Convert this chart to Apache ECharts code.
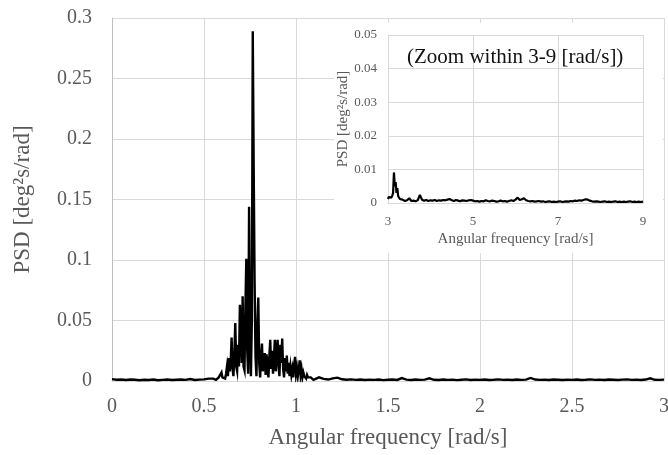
<!DOCTYPE html>
<html>
<head>
<meta charset="utf-8">
<script src="https://cdn.jsdelivr.net/npm/echarts@6/dist/echarts.min.js"></script>
<style>
  html, body { margin: 0; padding: 0; background: #ffffff; }
  #chart { width: 668px; height: 455px; }
</style>
</head>
<body>
<div id="chart"></div>
<script>
// main spectrum 0-3 rad/s
const mainFreq = [
  0, 0.025, 0.05, 0.075, 0.1, 0.125, 0.15, 0.175, 0.2, 0.225,
  0.25, 0.275, 0.3, 0.325, 0.35, 0.375, 0.4, 0.425, 0.45, 0.475,
  0.5, 0.525,
  0.55, 0.555, 0.56, 0.565, 0.57, 0.575, 0.58, 0.585, 0.59, 0.595,
  0.6, 0.605, 0.61, 0.615, 0.62, 0.625, 0.63, 0.635, 0.64, 0.645,
  0.65, 0.655, 0.66, 0.665, 0.67, 0.675, 0.68, 0.685, 0.69, 0.695,
  0.7, 0.705, 0.71, 0.715, 0.72, 0.725, 0.73, 0.735, 0.74, 0.745,
  0.75, 0.755, 0.76, 0.765, 0.77, 0.775, 0.78, 0.785, 0.79, 0.795,
  0.8, 0.805, 0.81, 0.815, 0.82, 0.825, 0.83, 0.835, 0.84, 0.845,
  0.85, 0.855, 0.86, 0.865, 0.87, 0.875, 0.88, 0.885, 0.89, 0.895,
  0.9, 0.905, 0.91, 0.915, 0.92, 0.925, 0.93, 0.935, 0.94, 0.945,
  0.95, 0.955, 0.96, 0.965, 0.97, 0.975, 0.98, 0.985, 0.99, 0.995,
  1.0, 1.005, 1.01, 1.015, 1.02, 1.025, 1.03, 1.035, 1.04, 1.045,
  1.05, 1.055, 1.06, 1.065, 1.07, 1.075, 1.08, 1.085, 1.09, 1.095,
  1.1,
  1.125, 1.15, 1.175, 1.2, 1.225, 1.25, 1.275, 1.3, 1.325, 1.35,
  1.375, 1.4, 1.425, 1.45, 1.475, 1.5, 1.525, 1.55, 1.575, 1.6,
  1.625, 1.65, 1.675, 1.7, 1.725, 1.75, 1.775, 1.8, 1.825, 1.85,
  1.875, 1.9, 1.925, 1.95, 1.975, 2.0, 2.025, 2.05, 2.075, 2.1,
  2.125, 2.15, 2.175, 2.2, 2.225, 2.25, 2.275, 2.3, 2.325, 2.35,
  2.375, 2.4, 2.425, 2.45, 2.475, 2.5, 2.525, 2.55, 2.575, 2.6,
  2.625, 2.65, 2.675, 2.7, 2.725, 2.75, 2.775, 2.8, 2.825, 2.85,
  2.875, 2.9, 2.925, 2.95, 2.975, 3.0
];
const mainPsd = [
  0.0015, 0.0010, 0.0012, 0.0008, 0.0012, 0.0010, 0.0006, 0.0010, 0.0008, 0.0012,
  0.0006, 0.0009, 0.0012, 0.0008, 0.0010, 0.0012, 0.0009, 0.0016, 0.0008, 0.0011,
  0.0013, 0.0020,
  0.002, 0.001, 0.002, 0.001, 0.002, 0.001, 0.003, 0.002, 0.004, 0.007,
  0.003, 0.002, 0.004, 0.002, 0.006, 0.012, 0.004, 0.019, 0.008, 0.015,
  0.036, 0.010, 0.004, 0.022, 0.048, 0.012, 0.008, 0.030, 0.012, 0.063,
  0.045, 0.015, 0.070, 0.012, 0.009, 0.060, 0.101, 0.025, 0.006, 0.144,
  0.040, 0.004, 0.050, 0.289, 0.177, 0.082, 0.020, 0.004, 0.045, 0.069,
  0.015, 0.003, 0.020, 0.031, 0.008, 0.018, 0.023, 0.005, 0.022, 0.012,
  0.003, 0.020, 0.034, 0.010, 0.025, 0.006, 0.018, 0.034, 0.008, 0.022,
  0.034, 0.012, 0.004, 0.030, 0.015, 0.035, 0.010, 0.003, 0.019, 0.008,
  0.021, 0.006, 0.015, 0.004, 0.012, 0.005, 0.010, 0.003, 0.014, 0.020,
  0.006, 0.011, 0.004, 0.009, 0.017, 0.005, 0.010, 0.003, 0.007, 0.004,
  0.005, 0.002, 0.005, 0.003, 0.004, 0.002, 0.003, 0.002, 0.002, 0.001,
  0.002,
  0.0030, 0.0018, 0.0012, 0.0022, 0.0028, 0.0014, 0.0010, 0.0013, 0.0009, 0.0012,
  0.0008, 0.0011, 0.0009, 0.0012, 0.0007, 0.0010, 0.0012, 0.0009, 0.0024, 0.0011,
  0.0008, 0.0012, 0.0009, 0.0011, 0.0022, 0.0010, 0.0008, 0.0012, 0.0009, 0.0011,
  0.0007, 0.0010, 0.0013, 0.0008, 0.0011, 0.0009, 0.0012, 0.0008, 0.0010, 0.0013,
  0.0009, 0.0011, 0.0008, 0.0012, 0.0009, 0.0011, 0.0025, 0.0012, 0.0009, 0.0011,
  0.0008, 0.0012, 0.0010, 0.0008, 0.0011, 0.0009, 0.0012, 0.0008, 0.0010, 0.0013,
  0.0009, 0.0011, 0.0008, 0.0012, 0.0010, 0.0008, 0.0011, 0.0013, 0.0009, 0.0011,
  0.0008, 0.0012, 0.0022, 0.0010, 0.0009, 0.0011
];

// inset spectrum 3-9 rad/s
const zoomFreq = [
  3.0, 3.02, 3.04, 3.06, 3.08, 3.1, 3.12, 3.14, 3.16, 3.18,
  3.2, 3.22, 3.24, 3.26, 3.28, 3.3, 3.32, 3.34, 3.36, 3.38,
  3.4,
  3.45, 3.5, 3.55, 3.6, 3.65, 3.7, 3.75, 3.8, 3.85, 3.9,
  3.95, 4.0, 4.05, 4.1, 4.15, 4.2, 4.25, 4.3, 4.35, 4.4,
  4.45, 4.5, 4.55, 4.6, 4.65, 4.7, 4.75, 4.8, 4.85, 4.9,
  4.95, 5.0, 5.05, 5.1, 5.15, 5.2, 5.25, 5.3, 5.35, 5.4,
  5.45, 5.5, 5.55, 5.6, 5.65, 5.7, 5.75, 5.8, 5.85, 5.9,
  5.95, 6.0, 6.05, 6.1, 6.15, 6.2, 6.25, 6.3, 6.35, 6.4,
  6.45, 6.5, 6.55, 6.6, 6.65, 6.7, 6.75, 6.8, 6.85, 6.9,
  6.95, 7.0, 7.05, 7.1, 7.15, 7.2, 7.25, 7.3, 7.35, 7.4,
  7.45, 7.5, 7.55, 7.6, 7.65, 7.7, 7.75, 7.8, 7.85, 7.9,
  7.95, 8.0, 8.05, 8.1, 8.15, 8.2, 8.25, 8.3, 8.35, 8.4,
  8.45, 8.5, 8.55, 8.6, 8.65, 8.7, 8.75, 8.8, 8.85, 8.9,
  8.95, 9.0
];
const zoomPsd = [
  0.0012, 0.0018, 0.0015, 0.0020, 0.0016, 0.0022, 0.0030, 0.0091, 0.0050, 0.0062,
  0.0030, 0.0044, 0.0020, 0.0016, 0.0012, 0.0010, 0.0008, 0.0010, 0.0007, 0.0009,
  0.0006,
  0.0008, 0.0014, 0.0006, 0.0007, 0.0005, 0.0008, 0.0024, 0.0010, 0.0007, 0.0009,
  0.0006, 0.0008, 0.0007, 0.0009, 0.0006, 0.0008, 0.0007, 0.0009, 0.0008, 0.0010,
  0.0012, 0.0008, 0.0006, 0.0009, 0.0007, 0.0005, 0.0008, 0.0007, 0.0006, 0.0008,
  0.0009, 0.0007, 0.0005, 0.0006, 0.0004, 0.0006, 0.0005, 0.0008, 0.0006, 0.0005,
  0.0007, 0.0006, 0.0004, 0.0005, 0.0007, 0.0005, 0.0006, 0.0004, 0.0006, 0.0008,
  0.0006, 0.0010, 0.0016, 0.0009, 0.0011, 0.0014, 0.0008, 0.0006, 0.0005, 0.0006,
  0.0004, 0.0005, 0.0006, 0.0004, 0.0005, 0.0003, 0.0004, 0.0005, 0.0003, 0.0004,
  0.0003, 0.0004, 0.0005, 0.0003, 0.0004, 0.0005, 0.0004, 0.0006, 0.0005, 0.0007,
  0.0006, 0.0008, 0.0007, 0.0009, 0.0011, 0.0010, 0.0007, 0.0005, 0.0004, 0.0005,
  0.0004, 0.0003, 0.0004, 0.0005, 0.0003, 0.0004, 0.0003, 0.0004, 0.0005, 0.0003,
  0.0004, 0.0003, 0.0004, 0.0003, 0.0004, 0.0005, 0.0003, 0.0004, 0.0003, 0.0004,
  0.0003, 0.0004
];

const zoomXTicks = [3, 5, 7, 9];
const zoomNote = '(Zoom within 3-9 [rad/s])';

const FONT = 'Liberation Serif';
const TEXT = '#595959';
const GRID_LINE = '#d9d9d9';

const zip = (xs, ys) => xs.map((x, i) => [x, ys[i]]);

const chart = echarts.init(document.getElementById('chart'), null, { renderer: 'canvas' });

const option = {
  animation: false,
  backgroundColor: '#ffffff',
  title: {
    text: zoomNote,
    left: 407,
    top: 47,
    padding: 0,
    z: 20,
    textStyle: { fontFamily: FONT, fontSize: 21, fontWeight: 'normal', color: '#111111' },
  },
  graphic: [
    {
      type: 'rect',
      left: 334,
      top: 23,
      z: 5,
      shape: { width: 329, height: 230 },
      style: { fill: '#ffffff' },
    },
  ],
  grid: [
    { left: 112, right: 4, top: 18, bottom: 74, outerBoundsMode: 'none' },
    { left: 388, right: 25, top: 35, bottom: 252, outerBoundsMode: 'none' },
  ],
  xAxis: [
    {
      type: 'value',
      gridIndex: 0,
      min: 0,
      max: 3,
      interval: 0.5,
      axisLine: { show: true, lineStyle: { color: GRID_LINE } },
      axisTick: { show: false },
      axisLabel: { fontFamily: FONT, fontSize: 20, color: TEXT, margin: 16 },
      splitLine: { show: true, lineStyle: { color: GRID_LINE, width: 1 } },
      name: 'Angular frequency [rad/s]',
      nameLocation: 'middle',
      nameGap: 45,
      nameTextStyle: { fontFamily: FONT, fontSize: 23, color: TEXT },
    },
    {
      type: 'value',
      gridIndex: 1,
      min: 3,
      max: 9,
      interval: 1,
      z: 10,
      axisLine: { show: true, lineStyle: { color: GRID_LINE } },
      axisTick: { show: false, customValues: zoomXTicks },
      axisLabel: { customValues: zoomXTicks, fontFamily: FONT, fontSize: 13, color: TEXT, margin: 12 },
      splitLine: { show: true, lineStyle: { color: GRID_LINE, width: 1 } },
      name: 'Angular frequency [rad/s]',
      nameLocation: 'middle',
      nameGap: 29,
      nameTextStyle: { fontFamily: FONT, fontSize: 15, color: TEXT },
    },
  ],
  yAxis: [
    {
      type: 'value',
      gridIndex: 0,
      min: 0,
      max: 0.3,
      interval: 0.05,
      axisLine: { show: true, lineStyle: { color: '#bfbfbf' } },
      axisTick: { show: false },
      axisLabel: { fontFamily: FONT, fontSize: 20, color: TEXT, margin: 20 },
      splitLine: { show: true, lineStyle: { color: GRID_LINE, width: 1 } },
      name: 'PSD [deg²s/rad]',
      nameLocation: 'middle',
      nameGap: 78,
      nameTextStyle: { fontFamily: FONT, fontSize: 23, color: TEXT },
    },
    {
      type: 'value',
      gridIndex: 1,
      min: 0,
      max: 0.05,
      interval: 0.01,
      z: 10,
      axisLine: { show: true, lineStyle: { color: GRID_LINE } },
      axisTick: { show: false },
      axisLabel: { fontFamily: FONT, fontSize: 13, color: TEXT, margin: 11 },
      splitLine: { show: true, lineStyle: { color: GRID_LINE, width: 1 } },
      name: 'PSD [deg²s/rad]',
      nameLocation: 'middle',
      nameGap: 35,
      nameTextStyle: { fontFamily: FONT, fontSize: 15, color: TEXT },
    },
  ],
  series: [
    {
      type: 'line',
      xAxisIndex: 0,
      yAxisIndex: 0,
      data: zip(mainFreq, mainPsd),
      showSymbol: false,
      symbol: 'none',
      z: 2,
      lineStyle: { color: '#000000', width: 2.4, join: 'miter' },
    },
    {
      type: 'line',
      xAxisIndex: 1,
      yAxisIndex: 1,
      data: zip(zoomFreq, zoomPsd),
      showSymbol: false,
      symbol: 'none',
      z: 12,
      lineStyle: { color: '#000000', width: 2.2 },
    },
  ],
};

chart.setOption(option);
</script>
</body>
</html>
